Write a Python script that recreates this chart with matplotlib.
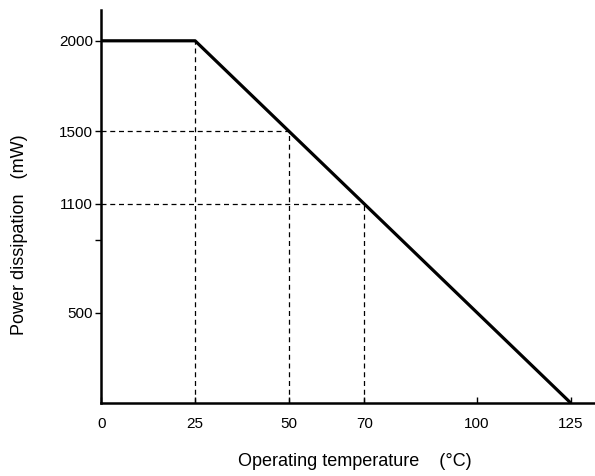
import matplotlib
matplotlib.use("Agg")
import matplotlib.pyplot as plt

plt.rcParams['font.family'] = ['Liberation Sans', 'DejaVu Sans']

# derating curve
temps = [0, 25, 125]
power = [2000, 2000, 0]

# reference points (dashed guides)
ref_temps = [25, 50, 70]
ref_power = [2000, 1500, 1100]

xticks = [0, 25, 50, 70, 100, 125]
yticks = [500, 900, 1100, 1500, 2000]
ytick_labels = ['500', '', '1100', '1500', '2000']

fig = plt.figure(figsize=(5.95, 4.76), dpi=100)
ax = fig.add_axes([0.17, 0.153, 0.83, 0.826])

for t, p in zip(ref_temps, ref_power):
    ax.plot([t, t], [0, p], color='black', lw=0.9, ls=(0, (4, 3)))
    if t != 25:
        ax.plot([0, t], [p, p], color='black', lw=0.9, ls=(0, (4, 3)))

ax.plot(temps, power, color='black', lw=2.3, solid_capstyle='butt')

ax.set_xlim(0, 131.4)
ax.set_ylim(0, 2170)
ax.spines['top'].set_visible(False)
ax.spines['right'].set_visible(False)
ax.spines['left'].set_linewidth(1.8)
ax.spines['bottom'].set_linewidth(1.8)

ax.set_xticks(xticks)
ax.set_xticklabels([str(x) for x in xticks])
ax.set_yticks(yticks)
ax.set_yticklabels(ytick_labels)
ax.tick_params(axis='x', direction='in', length=4, width=1, labelsize=11, pad=10)
ax.tick_params(axis='y', direction='out', length=4, width=1, labelsize=11, pad=2)

fig.text(355 / 595, 1 - 462 / 476, 'Operating temperature    (\u00b0C)',
         fontsize=13, ha='center', va='center')
fig.text(20 / 595, 1 - 235 / 476, 'Power dissipation   (mW)',
         fontsize=13, rotation=90, ha='center', va='center')

fig.savefig('out.png', dpi=100)
